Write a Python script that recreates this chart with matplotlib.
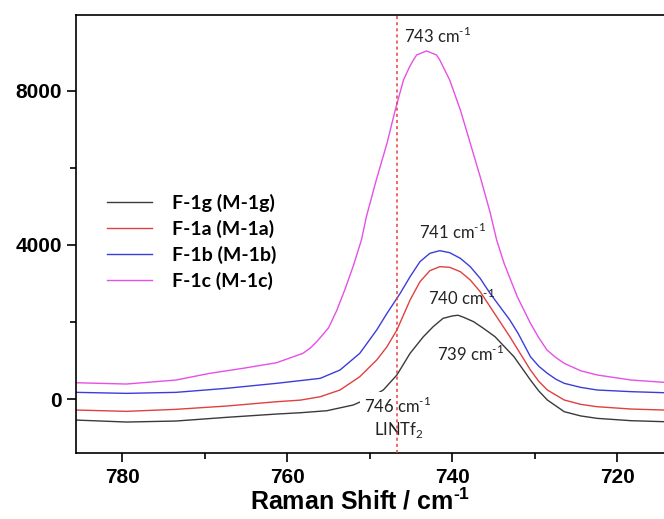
"""
Raman spectra of the F-1 series around the TFSI band (~740 cm-1)
"""
import matplotlib
matplotlib.use("Agg")
import matplotlib.pyplot as plt
from matplotlib.ticker import MultipleLocator

plt.rcParams['mathtext.fontset'] = 'custom'
plt.rcParams['mathtext.rm'] = 'Lato'
plt.rcParams['mathtext.bf'] = 'Liberation Sans:bold'

#Curves: Raman shift (cm-1) and intensity
x_1g = [785.6, 779.5, 773.5, 767.4, 761.3, 758.4, 755.2, 752.0, 750.0, 748.35,
        746.7, 745.1, 743.5, 742.3, 741.1, 740.0, 739.3, 738.6, 737.4, 736.2,
        734.8, 732.5, 730.5, 729.5, 728.45, 726.4, 724.4, 722.4, 718.3, 714.3]
y_1g = [-537, -588, -562, -467, -381, -347, -295, -147, 40, 242,
        631, 1193, 1620, 1883, 2099, 2160, 2180, 2126, 2013, 1840,
        1624, 1105, 501, 220, -17, -320, -430, -493, -553, -579]

x_1a = [785.6, 779.5, 773.5, 767.4, 761.3, 758.4, 756.0, 753.6, 751.2, 749.15,
        747.9, 746.7, 745.1, 743.9, 742.7, 741.5, 740.3, 739.0, 737.8, 736.6,
        735.4, 734.2, 733.0, 732.5, 730.5, 729.5, 728.45, 726.4, 724.4, 722.4,
        718.3, 714.3]
y_1a = [-277, -311, -259, -174, -62, -20, 68, 242, 587, 1019,
        1364, 1797, 2574, 3049, 3334, 3438, 3421, 3308, 3093, 2790,
        2401, 2013, 1624, 1450, 760, 470, 242, -17, -130, -191,
        -251, -277]

x_1b = [785.6, 779.5, 773.5, 767.4, 761.3, 756.0, 753.6, 751.2, 749.15, 747.9,
        746.3, 745.1, 743.9, 742.7, 741.5, 740.3, 739.0, 737.8, 736.6, 735.4,
        734.2, 733.0, 732.0, 730.5, 729.5, 728.45, 727.4, 726.4, 724.4, 722.4,
        718.3, 714.3]
y_1b = [181, 155, 181, 285, 415, 544, 760, 1193, 1797, 2229,
        2747, 3179, 3568, 3784, 3853, 3801, 3654, 3438, 3136, 2747,
        2401, 2056, 1711, 1105, 860, 674, 520, 415, 310, 242,
        199, 172]

x_1c = [785.6, 779.5, 773.5, 769.4, 765.4, 761.3, 758.1, 757.2, 756.4, 755.0,
        754.0, 753.0, 752.0, 751.0, 750.4, 749.2, 747.9, 746.9, 745.9, 745.2,
        744.7, 744.3, 743.1, 741.9, 741.5, 740.3, 739.0, 737.8, 736.6, 735.4,
        734.6, 733.7, 732.1, 730.5, 729.5, 728.5, 727.4, 726.4, 724.4, 722.4,
        718.3, 714.3]
y_1c = [430, 397, 500, 674, 803, 949, 1192, 1330, 1500, 1850,
        2300, 2850, 3450, 4130, 4734, 5685, 6636, 7499, 8277, 8600,
        8795, 8925, 9028, 8925, 8795, 8277, 7499, 6636, 5771, 4850,
        4130, 3525, 2661, 1970, 1600, 1279, 1080, 933, 740, 631,
        501, 441]

labels = ["F-1g (M-1g)", "F-1a (M-1a)", "F-1b (M-1b)", "F-1c (M-1c)"]
colors = ["#3a3a3a", "#e04040", "#3c3cdc", "#e650e6"]

#Peak labels: text, x, y
peak_notes = [("743 cm$^{\u20101}$", 741.8, 9430),
              ("741 cm$^{\u20101}$", 739.9, 4345),
              ("740 cm$^{\u20101}$", 738.9, 2639),
              ("739 cm$^{\u20101}$", 737.7, 1170)]
litfsi_x = 746.7

fig = plt.figure(figsize=(6.64, 5.19), dpi=100)
ax = fig.add_axes([0.1145, 0.1272, 0.8855, 0.8439])

series = [(x_1g, y_1g), (x_1a, y_1a), (x_1b, y_1b), (x_1c, y_1c)]
for (xs, ys), lab, col in zip(series, labels, colors):
    ax.plot(xs, ys, color=col, lw=1.0, label=lab, zorder=2,
            solid_joinstyle="round")

ax.axvline(litfsi_x, color="#e8403c", lw=1.1, ls=(0, (2, 2)), zorder=5)

for txt, tx, ty in peak_notes:
    ax.text(tx, ty, txt, ha="center", va="center", family="Lato",
            fontsize=12, color="#222222", zorder=6)

box = dict(facecolor="white", edgecolor="none", pad=3)
ax.text(746.6, -168, "746 cm$^{\u20101}$", ha="center", va="center",
        family="Lato", fontsize=12, color="#222222", bbox=box, zorder=4)
ax.text(746.5, -795, "LINTf$_2$", ha="center", va="center",
        family="Lato", fontsize=12, color="#222222", bbox=box, zorder=4)

ax.set_xlim(785.62, 714.3)
ax.set_ylim(-1390, 9960)
ax.xaxis.set_major_locator(MultipleLocator(20))
ax.xaxis.set_minor_locator(MultipleLocator(10))
ax.set_yticks([0, 4000, 8000])
ax.set_yticks([2000, 6000], minor=True)

ax.spines["right"].set_visible(False)
for s in ["left", "top", "bottom"]:
    ax.spines[s].set_linewidth(1.2)
ax.tick_params(which="major", direction="out", length=6.5, width=1.2,
               labelsize=15, pad=4.5)
ax.tick_params(which="minor", direction="out", length=4.3, width=1.2)
ax.tick_params(axis="y", pad=3.5)
for lbl in ax.get_xticklabels() + ax.get_yticklabels():
    lbl.set_fontfamily("Liberation Sans")
    lbl.set_fontweight("bold")

ax.set_xlabel("Raman Shift / cm$^{\\mathbf{\u20101}}$", family="Liberation Sans",
              fontweight="bold", fontsize=18)
ax.xaxis.set_label_coords(0.483, -0.08)

ax.legend(loc="center left", bbox_to_anchor=(0.0527, 0.482), frameon=False,
          prop=dict(family="Lato", weight="bold", size=14),
          handlelength=2.3, handletextpad=1.03, labelspacing=0.42,
          borderpad=0, borderaxespad=0)

plt.savefig("out.png", dpi=100)
